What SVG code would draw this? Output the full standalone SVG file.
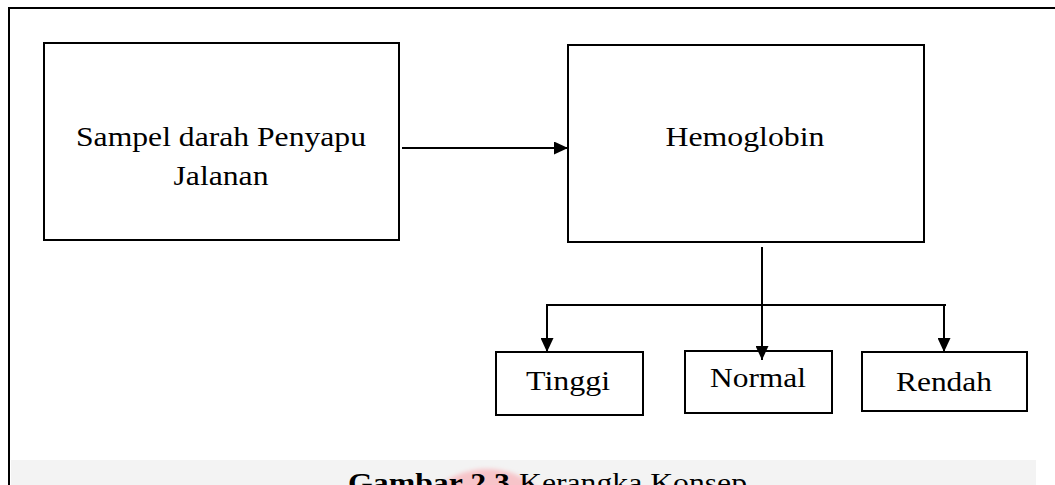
<svg xmlns="http://www.w3.org/2000/svg" width="1055" height="485" viewBox="0 0 1055 485">
  <style>
    .box { fill: #ffffff; stroke: #000000; stroke-width: 2; }
    .conn { fill: none; stroke: #000000; stroke-width: 2; }
    text { font-family: Liberation Serif, Times New Roman, Times, serif; font-size: 27px; fill: #000000; }
  </style>
  <defs>
    <marker id="ah" viewBox="0 0 14 13" refX="14" refY="6.5" markerWidth="14" markerHeight="13" markerUnits="userSpaceOnUse" orient="auto">
      <path d="M0,0 L14,6.5 L0,13 z" fill="#000000"/>
    </marker>
    <filter id="blur" x="-20%" y="-20%" width="140%" height="140%">
      <feGaussianBlur stdDeviation="2"/>
    </filter>
  </defs>
  <rect x="0" y="0" width="1055" height="485" fill="#ffffff"/>

  <!-- outer frame -->
  <path d="M9,485 V8 H1055" fill="none" stroke="#000000" stroke-width="2"/>

  <!-- caption band -->
  <rect x="11" y="460" width="1025" height="25" fill="#f3f3f3"/>
  <circle cx="487" cy="545" r="76" fill="#f7c4c9" filter="url(#blur)"/>

  <g id="node-sampel">
    <rect class="box" x="44" y="43" width="355" height="197"/>
    <text x="221" y="146" text-anchor="middle" textLength="290" lengthAdjust="spacingAndGlyphs">Sampel darah Penyapu</text>
    <text x="221" y="185" text-anchor="middle" textLength="95" lengthAdjust="spacingAndGlyphs">Jalanan</text>
  </g>

  <g id="node-hemoglobin">
    <rect class="box" x="568" y="45" width="356" height="197"/>
    <text x="745" y="146" text-anchor="middle" textLength="159" lengthAdjust="spacingAndGlyphs">Hemoglobin</text>
  </g>

  <g id="node-tinggi">
    <rect class="box" x="496" y="352" width="147" height="63"/>
    <text x="568" y="390" text-anchor="middle" textLength="84" lengthAdjust="spacingAndGlyphs">Tinggi</text>
  </g>

  <g id="node-normal">
    <rect class="box" x="685" y="351" width="147" height="62"/>
    <text x="758" y="387" text-anchor="middle" textLength="96" lengthAdjust="spacingAndGlyphs">Normal</text>
  </g>

  <g id="node-rendah">
    <rect class="box" x="862" y="352" width="165" height="59"/>
    <text x="944" y="391" text-anchor="middle" textLength="96" lengthAdjust="spacingAndGlyphs">Rendah</text>
  </g>

  <g id="caption">
    <text x="348" y="492" font-weight="bold" textLength="162" lengthAdjust="spacingAndGlyphs">Gambar 2.3</text>
    <text x="519" y="492" textLength="228" lengthAdjust="spacingAndGlyphs">Kerangka Konsep</text>
  </g>

  <g id="connectors">
    <path class="conn" d="M402,148 H568" marker-end="url(#ah)"/>
    <path class="conn" d="M762,247 V305" stroke-width="1.5"/>
    <path class="conn" d="M546,305 H946"/>
    <path class="conn" d="M547,304 V352" marker-end="url(#ah)"/>
    <path class="conn" d="M762,305 V360" marker-end="url(#ah)"/>
    <path class="conn" d="M944,304 V352" marker-end="url(#ah)"/>
  </g>
</svg>
